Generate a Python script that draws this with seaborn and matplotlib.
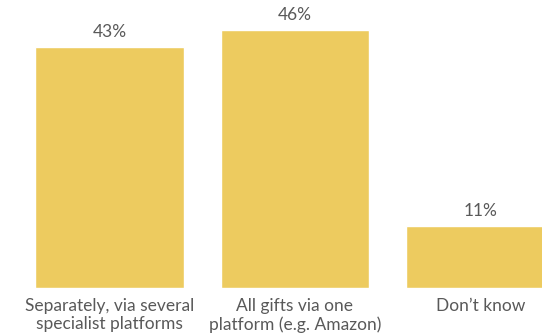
import matplotlib
matplotlib.use("Agg")
import matplotlib.pyplot as plt
import seaborn as sns
import pandas as pd

categories = [
    "Separately, via several\nspecialist platforms",
    "All gifts via one\nplatform (e.g. Amazon)",
    "Don\u2019t know",
]
shares = [43, 46, 11]
value_labels = ["43%", "46%", "11%"]

sns.set_theme(style="white")
plt.rcParams["font.family"] = ["Lato", "DejaVu Sans"]

df = pd.DataFrame({"category": categories, "share": shares})

fig = plt.figure(figsize=(5.42, 3.34), dpi=100)
ax = fig.add_axes([0, 46 / 334, 1, 288 / 334])

sns.barplot(data=df, x="category", y="share", color="#EDCB5F",
            saturation=1, width=0.8, ax=ax)

text_color = "#595959"
ax.bar_label(ax.containers[0], labels=value_labels, padding=5,
             fontsize=12.5, color=text_color)

ax.set_xlim(-0.59, 2.332)
ax.set_ylim(0, 51.43)
ax.set_xlabel("")
ax.set_ylabel("")
ax.set_yticks([])
ax.tick_params(axis="x", length=0, pad=7, labelsize=12.5, labelcolor=text_color)
for lbl in ax.get_xticklabels():
    lbl.set_linespacing(1.2)
sns.despine(ax=ax, left=True, bottom=True, top=True, right=True)

fig.savefig("out.png", dpi=100)
